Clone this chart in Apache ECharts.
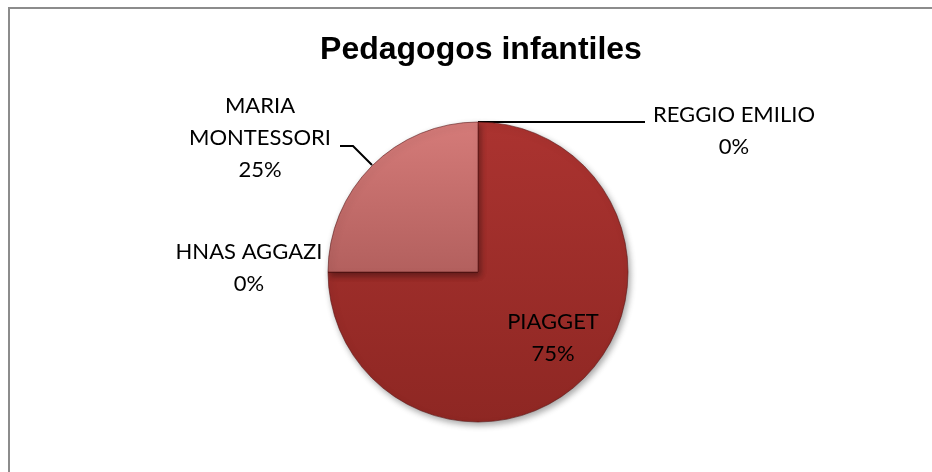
<!DOCTYPE html>
<html>
<head>
<meta charset="utf-8">
<script src="https://cdn.jsdelivr.net/npm/echarts@6/dist/echarts.min.js"></script>
<style>
  html, body { margin: 0; padding: 0; background: #fff; }
  #pie { width: 932px; height: 472px; }
</style>
</head>
<body>
<div id="pie"></div>
<script>
// datos del gráfico
var titulo = 'Pedagogos infantiles';
var nombres = ['REGGIO EMILIO', 'PIAGGET', 'HNAS AGGAZI', 'MARIA MONTESSORI'];
var valores = [0, 75, 0, 25];
// color arriba / abajo de cada porción
var coloresArriba = ['#ab3330', '#ab3330', '#c0504d', '#d57b79'];
var coloresAbajo = ['#8e2723', '#8e2723', '#a0403d', '#b3605e'];

// posiciones de las etiquetas (centro del texto)
var posEtiquetas = {
  'REGGIO EMILIO': { x: 734, y: 131, line: [[478, 122], [645, 122]] },
  'PIAGGET': { x: 553, y: 338 },
  'HNAS AGGAZI': { x: 249, y: 268 },
  'MARIA MONTESSORI': { x: 260, y: 138, line: [[372, 165], [353, 146], [340, 146]] }
};

var chartDom = document.getElementById('pie');
var myChart = echarts.init(chartDom);

function relleno(i) {
  var abajo = nombres[i] === 'MARIA MONTESSORI' ? 272 : 422;
  return {
    type: 'linear', x: 0, y: 122, x2: 0, y2: abajo, global: true,
    colorStops: [
      { offset: 0, color: coloresArriba[i] },
      { offset: 1, color: coloresAbajo[i] }
    ]
  };
}

var datos = nombres.map(function (n, i) {
  return {
    name: n,
    value: valores[i],
    itemStyle: { color: relleno(i) }
  };
});

var option = {
  backgroundColor: '#ffffff',
  animation: false,
  title: {
    text: titulo,
    left: 476,
    textAlign: 'center',
    top: 29,
    textStyle: {
      fontFamily: 'Liberation Sans',
      fontWeight: 'bold',
      fontSize: 32,
      color: '#000'
    }
  },
  graphic: [
    { type: 'line', shape: { x1: 8, y1: 8, x2: 932, y2: 8 }, style: { stroke: '#8c8c8c', lineWidth: 2 } },
    { type: 'line', shape: { x1: 9, y1: 8, x2: 9, y2: 472 }, style: { stroke: '#8c8c8c', lineWidth: 2 } }
  ],
  series: [
    {
      type: 'pie',
      center: [478, 272],
      radius: 150,
      startAngle: 90,
      clockwise: true,
      minAngle: 0,
      avoidLabelOverlap: false,
      data: datos,
      itemStyle: {
        borderColor: 'rgba(90,20,20,0.6)',
        borderWidth: 1,
        shadowBlur: 6,
        shadowOffsetX: 2,
        shadowOffsetY: 3,
        shadowColor: 'rgba(0,0,0,0.35)'
      },
      label: {
        show: true,
        formatter: function (p) {
          var n = p.name === 'MARIA MONTESSORI' ? 'MARIA\nMONTESSORI' : p.name;
          return n + '\n' + Math.round(p.percent) + '%';
        },
        fontFamily: 'Lato',
        fontSize: 22,
        lineHeight: 32,
        color: '#000',
        align: 'center'
      },
      labelLine: {
        show: true,
        lineStyle: { color: '#000', width: 2, shadowBlur: 0, shadowColor: 'transparent' }
      },
      labelLayout: function (params) {
        var p = posEtiquetas[nombres[params.dataIndex]];
        return {
          x: p.x,
          y: p.y,
          align: 'center',
          verticalAlign: 'middle',
          labelLinePoints: p.line ? p.line : [[0, 0], [0, 0]]
        };
      }
    }
  ]
};
option && myChart.setOption(option);
</script>
</body>
</html>
